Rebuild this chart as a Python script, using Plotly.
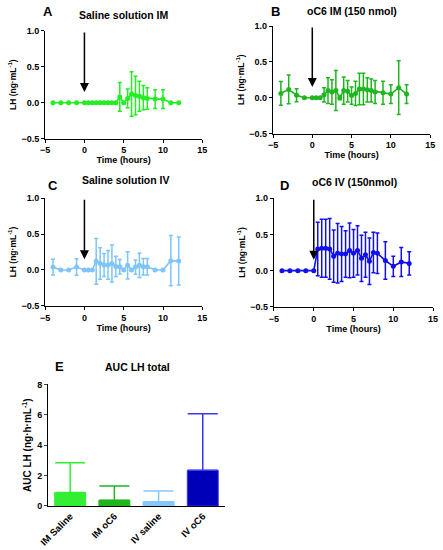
import plotly.graph_objects as go

# sampling times (hours) shared by the four time-course panels
times = [-4, -3, -2, -1, 0, 0.5, 1, 1.5, 2, 2.5, 3, 3.5, 4, 4.5, 5, 5.5,
         6, 6.5, 7, 7.5, 8, 9, 10, 11, 12]

# A - saline IM
lh_a = [0, 0, 0, 0, 0, 0, 0, 0, 0, 0, 0, 0, 0, 0.08, 0, 0.06,
        0.12, 0.10, 0.09, 0.07, 0.06, 0.05, 0.05, 0, 0]
err_a = [0, 0, 0, 0, 0, 0, 0, 0, 0, 0, 0, 0, 0, 0.20, 0, 0.13,
         0.31, 0.27, 0.21, 0.17, 0.15, 0.13, 0.13, 0, 0]

# B - oC6 IM
lh_b = [0.06, 0.115, 0.035, 0, 0, 0, 0, 0.04, 0.10, 0.08, 0.10, 0.0, 0.10, 0.09, 0.03, 0.06,
        0.12, 0.12, 0.11, 0.10, 0.08, 0.07, 0.05, 0.14, 0.05]
err_b = [0.165, 0.20, 0.09, 0, 0, 0, 0, 0.10, 0.18, 0.17, 0.28, 0.03, 0.19, 0.15, 0.12, 0.17,
         0.22, 0.22, 0.17, 0.16, 0.16, 0.16, 0.13, 0.375, 0.13]

# C - saline IV
lh_c = [0.04, 0, 0, 0.04, 0, 0, 0, 0.12, 0.09, 0.07, 0.07, 0.09, 0.05, 0.045, 0, 0.065,
        0, 0.04, 0.065, 0.045, 0.045, 0, 0, 0.13, 0.125]
err_c = [0.11, 0, 0, 0.115, 0, 0, 0, 0.32, 0.22, 0.16, 0.20, 0.26, 0.14, 0.10, 0, 0.19,
         0, 0.10, 0.17, 0.115, 0.115, 0, 0, 0.35, 0.335]

# D - oC6 IV
lh_d = [0, 0, 0, 0, 0, 0.30, 0.31, 0.31, 0.30, 0.20, 0.24, 0.23, 0.23, 0.28, 0.24, 0.28,
        0.17, 0.22, 0.13, 0.25, 0.24, 0.14, 0.06, 0.12, 0.10]
err_d = [0, 0, 0, 0, 0, 0.37, 0.40, 0.40, 0.42, 0.36, 0.41, 0.38, 0.32, 0.38, 0.33, 0.34,
         0.32, 0.31, 0.32, 0.28, 0.28, 0.26, 0.14, 0.20, 0.16]

# E - AUC
groups = ["IM Saline", "IM oC6", "IV saline", "IV oC6"]
auc = [0.88, 0.37, 0.28, 2.35]
auc_err = [1.97, 0.95, 0.71, 3.72]

col_a = "#22ee22"
col_b = "#1fb51f"
col_c = "#7fc4fa"
col_d = "#1010ee"
bar_cols = ["#33ee33", "#1fb51f", "#86c8fb", "#0000b8"]
err_cols = ["#33ee33", "#1fb51f", "#86c8fb", "#3a3ae8"]

W, H = 443, 550
# small correction for the slight shrink/shift seen in the screenshot
SX, OX = 0.986, 3.2
SY, OY = 0.986, 3.9


def px_x(v):
    return (v - OX) / SX / W


def px_y(v):
    return 1 - (v - OY) / SY / H


font_bold = "Liberation Sans"
fig = go.Figure()

panels = [
    ("", lh_a, err_a, col_a, [40, 200], [30, 138]),
    ("2", lh_b, err_b, col_b, [272, 432], [25, 133]),
    ("3", lh_c, err_c, col_c, [40, 200], [198, 306]),
    ("4", lh_d, err_d, col_d, [273, 435], [198, 307]),
]

for suffix, y, e, c, xd, yd in panels:
    fig.add_trace(go.Scatter(
        x=times, y=y, mode="lines+markers",
        line=dict(color=c, width=1.6),
        marker=dict(color=c, size=5),
        error_y=dict(type="data", array=e, color=c, thickness=1.5, width=2),
        xaxis="x" + suffix, yaxis="y" + suffix, showlegend=False,
    ))
    axis_common = dict(
        showline=True, linecolor="black", linewidth=1.2, ticks="outside",
        ticklen=3, tickcolor="black", showgrid=False, zeroline=False,
        tickfont=dict(family=font_bold, size=9, color="black", weight="bold"),
    )
    fig.layout["xaxis" + suffix] = dict(
        axis_common, domain=[px_x(xd[0]), px_x(xd[1])], range=[-5, 15],
        tickvals=[-5, 0, 5, 10, 15], anchor="y" + suffix,
        title=dict(text="Time (hours)", standoff=2,
                   font=dict(family=font_bold, size=9, color="black", weight="bold")),
    )
    fig.layout["yaxis" + suffix] = dict(
        axis_common, domain=[px_y(yd[1]), px_y(yd[0])], range=[-0.5, 1.0],
        tickvals=[-0.5, 0, 0.5, 1.0], tickformat=".1f", anchor="x" + suffix,
        title=dict(text="LH (ng·mL<sup>-1</sup>)", standoff=3,
                   font=dict(family=font_bold, size=8.5, color="black", weight="bold")),
    )
    # injection arrow at time 0
    fig.add_annotation(
        x=0, y=0.15, ax=0, ay=1.0, xref="x" + suffix, yref="y" + suffix,
        axref="x" + suffix, ayref="y" + suffix, text="", showarrow=True,
        arrowhead=2, arrowsize=1.2, arrowwidth=1.5, arrowcolor="black",
    )

# AUC bars, one trace per group so each error bar keeps its own colour
for g, v, ev, bc, ec in zip(groups, auc, auc_err, bar_cols, err_cols):
    fig.add_trace(go.Bar(
        x=[g], y=[v], width=0.7,
        marker=dict(color=bc, line=dict(color=ec, width=1)),
        error_y=dict(type="data", symmetric=False, array=[ev],
                     arrayminus=[0], color=ec, thickness=1.5, width=15),
        xaxis="x5", yaxis="y5", showlegend=False,
    ))
fig.layout["xaxis5"] = dict(
    domain=[px_x(43), px_x(223)], range=[-0.5, 3.5], anchor="y5",
    categoryorder="array", categoryarray=groups,
    showline=True, linecolor="black", linewidth=1.2, ticks="", tickangle=-45,
    tickfont=dict(family=font_bold, size=9.5, color="black", weight="bold"),
)
fig.layout["yaxis5"] = dict(
    domain=[px_y(507), px_y(385)], range=[0, 8], anchor="x5",
    tickvals=[0, 2, 4, 6, 8], showline=True, linecolor="black", linewidth=1.2,
    ticks="outside", ticklen=3, showgrid=False, zeroline=False,
    tickfont=dict(family=font_bold, size=9, color="black", weight="bold"),
    title=dict(text="AUC LH (ng·h·mL<sup>-1</sup>)", standoff=3,
               font=dict(family=font_bold, size=10, color="black", weight="bold")),
)

# panel letters and titles
labels = [
    ("A", 43, 10), ("B", 275, 10), ("C", 48, 185), ("D", 284, 185), ("E", 55, 367),
]
for txt, x, y in labels:
    fig.add_annotation(x=px_x(x), y=px_y(y), xref="paper", yref="paper",
                       xanchor="center", yanchor="middle",
                       text=txt, showarrow=False,
                       font=dict(family=font_bold, size=13, color="black", weight="bold"))

titles = [
    ("Saline solution IM", 120, 14), ("oC6 IM (150 nmol)", 352, 10),
    ("Saline solution IV", 122, 180), ("oC6 IV (150nmol)", 355, 182),
    ("AUC LH total", 134, 367),
]
for txt, x, y in titles:
    fig.add_annotation(x=px_x(x), y=px_y(y), xref="paper", yref="paper",
                       xanchor="center", yanchor="middle",
                       text=txt, showarrow=False,
                       font=dict(family=font_bold, size=10.5, color="black", weight="bold"))

fig.update_layout(
    width=W, height=H, margin=dict(l=0, r=0, t=0, b=0),
    plot_bgcolor="white", paper_bgcolor="white", barmode="overlay",
)

fig.write_html("out.html", config={"displayModeBar": False},
               post_script="document.body.style.margin='0';")
